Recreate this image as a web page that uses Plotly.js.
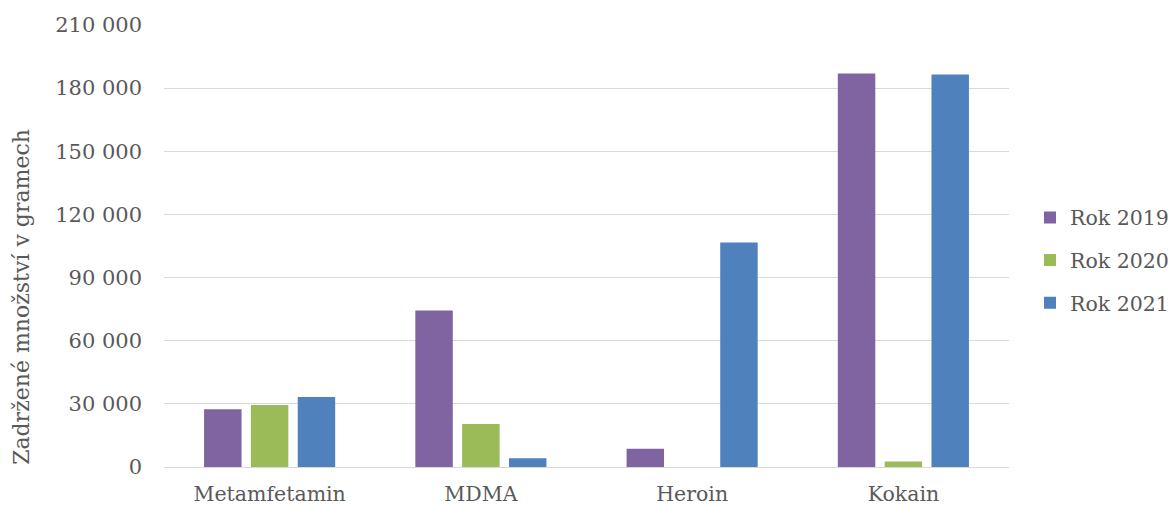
<!DOCTYPE html>
<html>
<head>
<meta charset="utf-8">
<script src="https://cdn.plot.ly/plotly-3.0.1.min.js"></script>
<style>
  html, body { margin: 0; padding: 0; background: #ffffff; }
  #chart { width: 1171px; height: 506px; }
</style>
</head>
<body>
<div id="chart"></div>
<script>
// Zadržené množství drog (g) podle druhu a roku
const categories = ["Metamfetamin", "MDMA", "Heroin", "Kokain"];
const seriesNames = ["Rok 2019", "Rok 2020", "Rok 2021"];
const rok2019 = [27400, 74400, 8700, 187000];
const rok2020 = [29400, 20400, 0, 2600];
const rok2021 = [33200, 4100, 106700, 186500];
const yTicks = [0, 30000, 60000, 90000, 120000, 150000, 180000, 210000];
const yTitle = "Zadržené množství v gramech";

const colors = ["#8064A2", "#9BBB59", "#4F81BD"];
const seriesValues = [rok2019, rok2020, rok2021];
const fontFamily = "DejaVu Serif, Liberation Serif, serif";
const textColor = "#595959";

const traces = seriesValues.map((vals, i) => ({
  type: "bar",
  name: seriesNames[i],
  x: categories,
  y: vals,
  marker: { color: colors[i] },
  legendgroup: "g" + i,
  hoverinfo: "x+y+name"
}));

const layout = {
  width: 1171,
  height: 506,
  paper_bgcolor: "#ffffff",
  plot_bgcolor: "#ffffff",
  separators: ", ",
  margin: { l: 164, r: 162, t: 25, b: 39 },
  barmode: "group",
  bargap: 0.335,
  bargroupgap: 0.2,
  font: { family: fontFamily, size: 20, color: textColor },
  xaxis: {
    type: "category",
    showgrid: false,
    zeroline: false,
    showline: false,
    ticks: "",
    ticklabelstandoff: 12,
    tickfont: { family: fontFamily, size: 20.5, color: textColor },
    automargin: false
  },
  yaxis: {
    range: [0, 210000],
    tickvals: yTicks,
    tickformat: ",d",
    showgrid: true,
    gridcolor: "#d9d9d9",
    gridwidth: 1,
    zeroline: true,
    zerolinecolor: "#d9d9d9",
    zerolinewidth: 1,
    showline: false,
    ticks: "",
    ticklabelstandoff: 21,
    tickfont: { family: fontFamily, size: 21, color: textColor },
    automargin: false
  },
  // Axis caption placed as a rotated annotation left of the tick labels
  annotations: [{
    text: yTitle,
    xref: "paper",
    yref: "paper",
    x: -0.168,
    y: 0.385,
    xanchor: "center",
    yanchor: "middle",
    textangle: -90,
    showarrow: false,
    font: { family: fontFamily, size: 22, color: textColor }
  }],
  legend: {
    xref: "container",
    yref: "paper",
    x: 0.8796,
    xanchor: "left",
    y: 0.468,
    yanchor: "middle",
    font: { family: fontFamily, size: 20.5, color: textColor },
    tracegroupgap: 13,
    itemwidth: 30,
    bgcolor: "rgba(0,0,0,0)"
  },
  showlegend: true
};

Plotly.newPlot("chart", traces, layout, { displayModeBar: false, staticPlot: true });
</script>
</body>
</html>
